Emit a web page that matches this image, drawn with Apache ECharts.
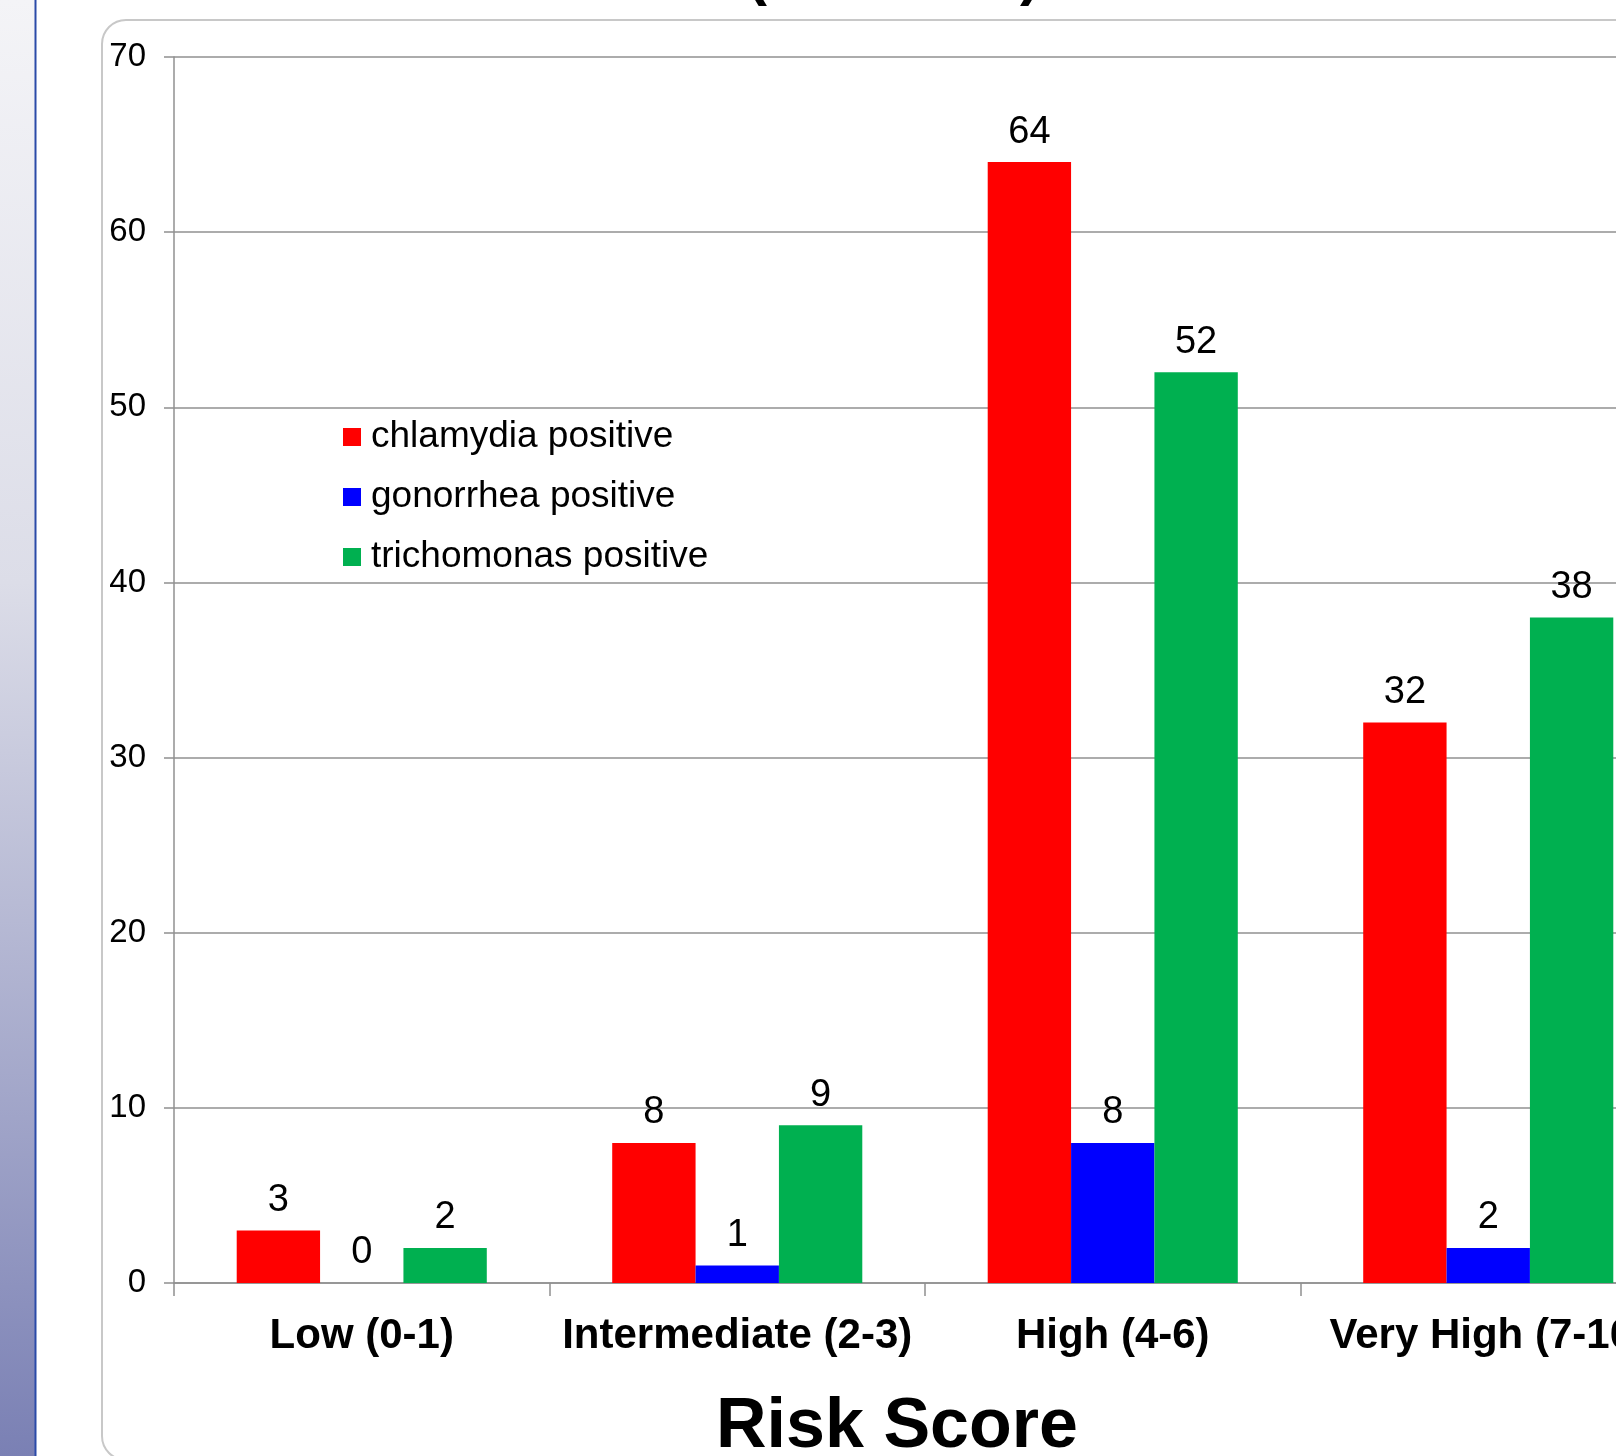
<!DOCTYPE html>
<html>
<head>
<meta charset="utf-8">
<script src="https://cdn.jsdelivr.net/npm/echarts@6/dist/echarts.min.js"></script>
<style>
html,body{margin:0;padding:0;background:#fff;overflow:hidden;width:1616px;height:1456px;}
#chart{width:1676px;height:1456px;}
</style>
</head>
<body>
<div id="chart"></div>
<script>
const categories = ['Low (0-1)', 'Intermediate (2-3)', 'High (4-6)', 'Very High (7-10)'];
const seriesNames = ['chlamydia positive', 'gonorrhea positive', 'trichomonas positive'];
const chlamydia = [3, 8, 64, 32];
const gonorrhea = [0, 1, 8, 2];
const trichomonas = [2, 9, 52, 38];
const yMin = 0, yMax = 70, yStep = 10;
const colors = ['#FF0000', '#0000FF', '#00B050'];
const xAxisTitle = 'Risk Score';

const FONT = 'Liberation Sans, Arial, sans-serif';
const chart = echarts.init(document.getElementById('chart'), null, {renderer: 'canvas'});

const labelCfg = {
  show: true, position: 'top', distance: 11,
  color: '#000', fontFamily: FONT, fontSize: 38
};

function bar(name, data, color) {
  return {
    name: name, type: 'bar', data: data,
    barGap: '0%', barCategoryGap: '33.4%',
    itemStyle: {color: color},
    label: labelCfg,
    z: 3
  };
}

chart.setOption({
  animation: false,
  backgroundColor: '#ffffff',
  textStyle: {fontFamily: FONT},
  grid: {left: 174, top: 57, right: 0, height: 1226, containLabel: false},
  legend: {
    orient: 'vertical', left: 338, top: 412,
    itemWidth: 18, itemHeight: 18, itemGap: 20,
    icon: 'rect',
    textStyle: {fontFamily: FONT, fontSize: 37, color: '#000', lineHeight: 40, padding: [0, 0, 0, 5]},
    data: seriesNames
  },
  xAxis: {
    type: 'category', data: categories,
    axisLine: {lineStyle: {color: '#909090', width: 1.5}},
    axisTick: {show: true, length: 13, alignWithLabel: false, lineStyle: {color: '#909090', width: 1.5}},
    axisLabel: {color: '#000', fontFamily: FONT, fontSize: 42, fontWeight: 'bold', margin: 32, interval: 0}
  },
  yAxis: {
    type: 'value', min: yMin, max: yMax, interval: yStep,
    axisLine: {show: true, lineStyle: {color: '#909090', width: 1.5}},
    axisTick: {show: true, length: 10, lineStyle: {color: '#909090', width: 1.5}},
    splitLine: {show: true, lineStyle: {color: '#909090', width: 1.5}},
    axisLabel: {color: '#000', fontFamily: FONT, fontSize: 33, margin: 28, padding: [5, 0, 0, 0]}
  },
  graphic: [
    {
      type: 'rect', left: 0, top: 0, z: -10, silent: true,
      shape: {x: 0, y: 0, width: 36, height: 1456},
      style: {fill: new echarts.graphic.LinearGradient(0, 0, 0, 1, [
        {offset: 0, color: '#f4f4f7'},
        {offset: 0.4, color: '#dcdde8'},
        {offset: 1, color: '#7a80b4'}
      ])}
    },
    {
      type: 'rect', z: -9, silent: true,
      shape: {x: 34.5, y: 0, width: 2, height: 1456},
      style: {fill: '#2a4aa8'}
    },
    {
      type: 'rect', z: -8, silent: true,
      shape: {x: 102, y: 20, width: 1600, height: 1440, r: 24},
      style: {fill: 'none', stroke: '#c8c8c8', lineWidth: 2}
    },
    {
      type: 'text', z: 5, silent: true,
      style: {x: 757, y: 7, text: '(', fill: '#000', font: 'bold 60px ' + FONT, align: 'center', verticalAlign: 'bottom'}
    },
    {
      type: 'text', z: 5, silent: true,
      style: {x: 1030, y: 7, text: ')', fill: '#000', font: 'bold 60px ' + FONT, align: 'center', verticalAlign: 'bottom'}
    },
    {
      type: 'text', z: 5, silent: true,
      style: {x: 897, y: 1428, text: xAxisTitle, fill: '#000', font: 'bold 70px ' + FONT, align: 'center', verticalAlign: 'middle'}
    }
  ],
  series: [
    bar(seriesNames[0], chlamydia, colors[0]),
    bar(seriesNames[1], gonorrhea, colors[1]),
    bar(seriesNames[2], trichomonas, colors[2])
  ]
});
</script>
</body>
</html>
